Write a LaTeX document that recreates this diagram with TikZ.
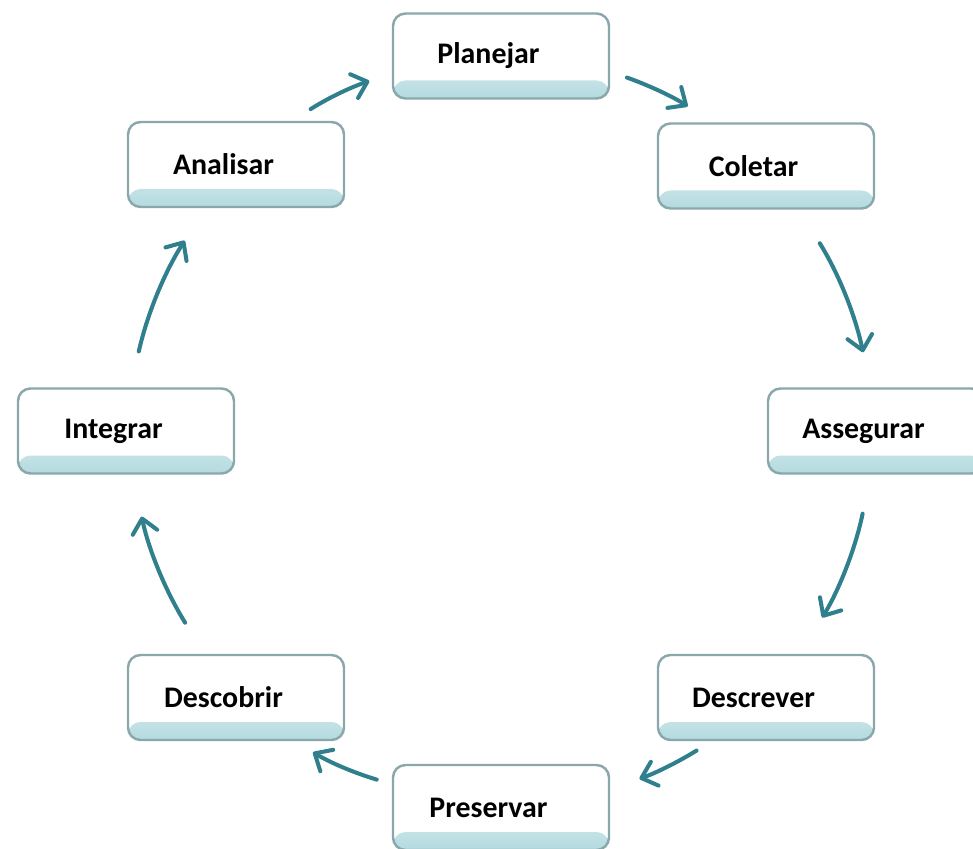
\documentclass[tikz,border=0pt]{standalone}
\usepackage{xcolor}
\usepackage{fontspec}
\setmainfont{Carlito}
\usepackage{tikz}
\usetikzlibrary{positioning,arrows.meta}

\definecolor{borda}{HTML}{8AA7AB}
\definecolor{fundo}{HTML}{B3DADF}
\definecolor{setacor}{HTML}{2F7F8C}

\tikzset{
  etapa/.style = {draw=borda, line width=1.4pt, rounded corners=0.25cm, fill=white,
    minimum width=4.32cm, minimum height=1.7cm, outer sep=0pt,
    font=\fontsize{17}{20}\selectfont\bfseries,
    execute at begin node={\hspace*{-5mm}},
    path picture={\shade[top color=white, bottom color=fundo]
      ([yshift=0.36cm]path picture bounding box.south west) rectangle (path picture bounding box.south east);}},
  seta/.style = {draw=setacor, line width=2.3pt, line cap=round,
    -{Straight Barb[length=2.8mm,width=5mm,line cap=round,line join=round]}},
}

\begin{document}
\begin{tikzpicture}[node distance=2cm, on grid]
    \useasboundingbox (0,0) rectangle (19.46,-16.98);

    \node[etapa] (plan) at (10.02,-1.12) {Planejar};
    \node[etapa, below right=2.2cm and 5.3cm of plan] (col) {Coletar};
    \node[etapa, below right=5.3cm and 2.2cm of col] (ass) {Assegurar};
    \node[etapa, below left=5.33cm and 2.2cm of ass] (desc) {Descrever};
    \node[etapa, below left=2.2cm and 5.3cm of desc] (pres) {Preservar};
    \node[etapa, above left=2.2cm and 5.3cm of pres] (dob) {Descobrir};
    \node[etapa, above left=5.33cm and 2.2cm of dob] (int) {Integrar};
    \node[etapa, above right=5.33cm and 2.2cm of int] (ana) {Analisar};

    \draw[seta, shorten <=0.48cm, shorten >=0.5cm] (ana.38) to[bend left=7] (plan.189);
    \draw[seta, shorten <=0.38cm, shorten >=0.62cm] (plan.-8) to[bend left=7] (col.141);
    \draw[seta, shorten <=0.82cm, shorten >=0.74cm] (col.-53) to[bend left=10] (ass.97);
    \draw[seta, shorten <=0.82cm, shorten >=0.88cm] (ass.263) to[bend left=10] (desc.52);
    \draw[seta, shorten <=0.40cm, shorten >=0.64cm] (desc.219) to[bend left=7] (pres.10);
    \draw[seta, shorten <=0.34cm, shorten >=0.48cm] (pres.168) to[bend left=7] (dob.-37);
    \draw[seta, shorten <=0.76cm, shorten >=0.88cm] (dob.126) to[bend left=10] (int.-81);
    \draw[seta, shorten <=0.76cm, shorten >=0.80cm] (int.84) to[bend left=10] (ana.235);
\end{tikzpicture}
\end{document}
